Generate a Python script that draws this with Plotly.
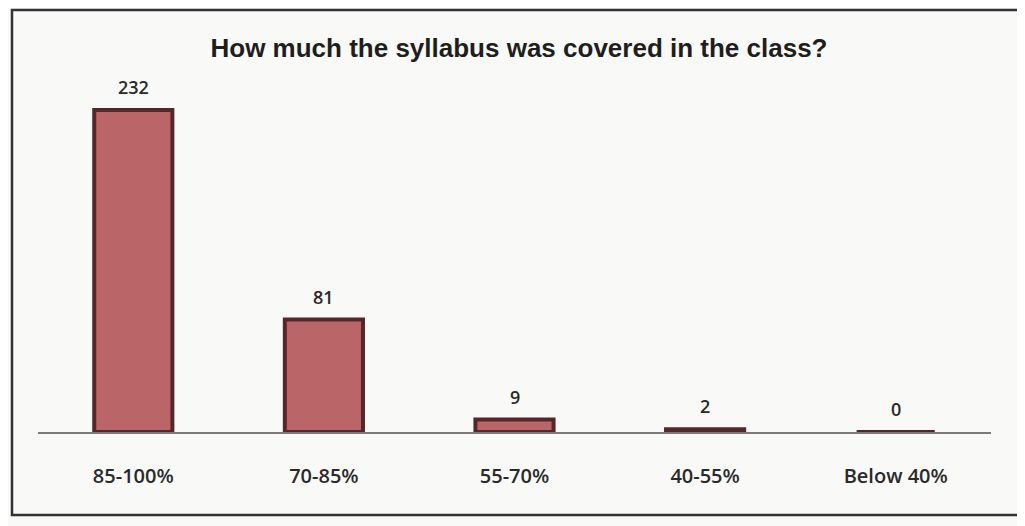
import plotly.graph_objects as go

categories = ["85-100%", "70-85%", "55-70%", "40-55%", "Below 40%"]
values = [232, 81, 9, 2, 0]
title_text = "How much the syllabus was covered in the class?"

LABEL_FONT = "Open Sans, Noto Sans, sans-serif"

fig = go.Figure()
fig.add_trace(go.Bar(
    x=categories, y=values,
    marker=dict(color="#ba6669", line=dict(color="#55262a", width=4)),
    width=0.41,
    hoverinfo="x+y",
))

for c, v in zip(categories, values):
    fig.add_annotation(x=c, y=v, xref="x", yref="y", text=str(v), showarrow=False,
                       yanchor="bottom", yshift=9,
                       font=dict(family=LABEL_FONT, size=18, color="#2a2a2a", weight=600))

# page body has an 8px offset; figure coordinates below are compensated
L, R, T, B = 30, 42, 77, 102
W, H = 1025, 526
pw, ph = W - L - R, H - T - B
fx0, fx1, fy0, fy1 = 4, 1013, 2, 507
fig.add_shape(type="rect", xref="paper", yref="paper",
              x0=(fx0 - L) / pw, x1=(fx1 - L) / pw,
              y0=(H - B - fy1) / ph, y1=(H - B - fy0) / ph,
              line=dict(color="#333333", width=2.5), layer="below")

fig.update_layout(
    width=W, height=H,
    margin=dict(l=L, r=R, t=T, b=B),
    paper_bgcolor="#f9f9f8", plot_bgcolor="#f9f9f8",
    showlegend=False,
    title=dict(text="<b>" + title_text + "</b>", x=511 / W, xanchor="center",
               y=1 - 40 / H, yanchor="middle",
               font=dict(family="Liberation Sans, Arial, sans-serif", size=26, color="#1e1e1e")),
    bargap=0.59,
)
fig.update_xaxes(showline=True, linecolor="#7a7a7a", linewidth=1.5, ticks="",
                 showgrid=False, ticklabelstandoff=25,
                 tickfont=dict(family=LABEL_FONT, size=20, color="#2a2a2a", weight=600),
                 range=[-0.5, 4.5])
fig.update_yaxes(range=[0, 250], visible=False, showgrid=False, zeroline=False)

fig.write_html("out.html")
